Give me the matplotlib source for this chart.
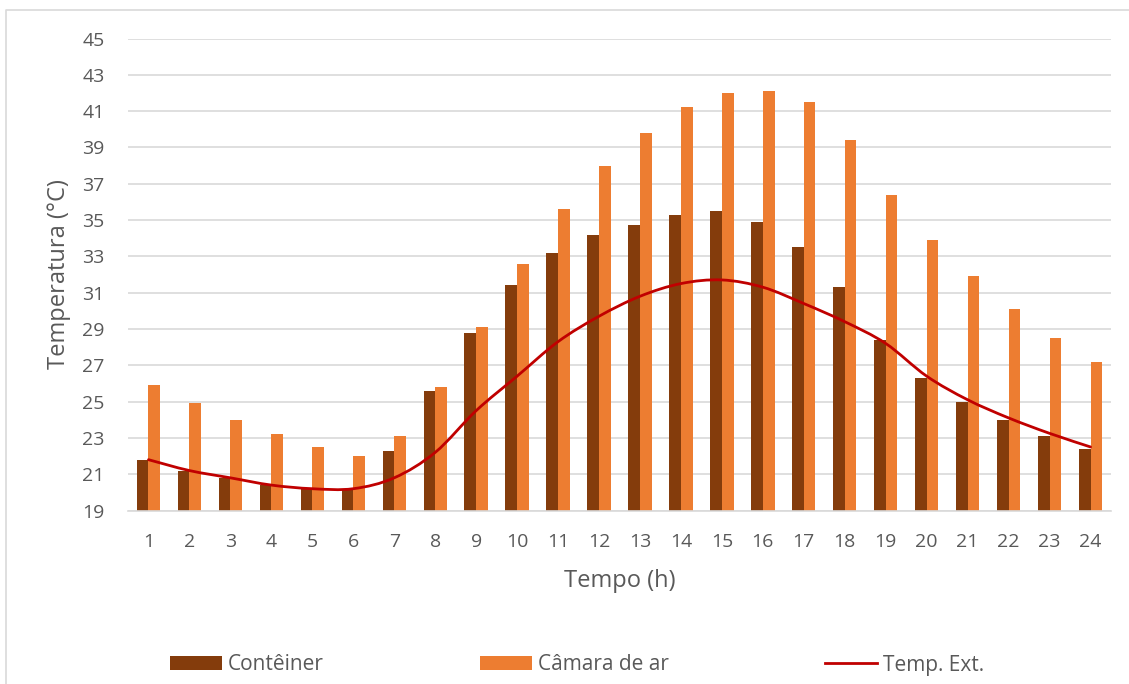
import matplotlib
matplotlib.use("Agg")
import matplotlib.pyplot as plt
from matplotlib.path import Path
from matplotlib.patches import PathPatch, Patch
from matplotlib.lines import Line2D
import numpy as np

# Hourly temperatures (°C)
hours = list(range(1, 25))
conteiner = [21.8, 21.2, 20.8, 20.4, 20.2, 20.2, 22.3, 25.6, 28.8, 31.4, 33.2, 34.2,
             34.7, 35.3, 35.5, 34.9, 33.5, 31.3, 28.4, 26.3, 25.0, 24.0, 23.1, 22.4]
camara_ar = [25.9, 24.9, 24.0, 23.2, 22.5, 22.0, 23.1, 25.8, 29.1, 32.6, 35.6, 38.0,
             39.8, 41.2, 42.0, 42.1, 41.5, 39.4, 36.4, 33.9, 31.9, 30.1, 28.5, 27.2]
temp_ext = [21.8, 21.2, 20.8, 20.4, 20.2, 20.2, 20.8, 22.2, 24.5, 26.4, 28.3, 29.7,
            30.8, 31.5, 31.7, 31.3, 30.4, 29.4, 28.2, 26.4, 25.1, 24.1, 23.25, 22.5]
y_ticks = list(range(19, 46, 2))

labels = ["Contêiner", "Câmara de ar", "Temp. Ext."]
c_cont = "#843C0C"
c_cam = "#ED7D31"
c_ext = "#C00000"
txt = "#595959"
grid = "#D9D9D9"

plt.rcParams["font.family"] = ["Open Sans", "DejaVu Sans"]

W, H = 1129, 684
fig = plt.figure(figsize=(W / 100, H / 100), dpi=100)
ax = fig.add_axes([128 / W, 1 - 510.5 / H, (1111 - 128) / W, (510.5 - 38.5) / H])

x = np.array(hours, dtype=float)
bw = 0.285
ax.bar(x - bw / 2, conteiner, width=bw, color=c_cont, zorder=2)
ax.bar(x + bw / 2, camara_ar, width=bw, color=c_cam, zorder=2)


def smooth_path(xs, ys):
    """Bezier path through the points with smoothed joints."""
    pts = np.column_stack([xs, ys])
    n = len(pts)
    verts = [pts[0]]
    codes = [Path.MOVETO]
    for i in range(n - 1):
        p0 = pts[max(i - 1, 0)]
        p1 = pts[i]
        p2 = pts[i + 1]
        p3 = pts[min(i + 2, n - 1)]
        c1 = p1 + (p2 - p0) / 6.0
        c2 = p2 - (p3 - p1) / 6.0
        verts += [c1, c2, p2]
        codes += [Path.CURVE4] * 3
    return Path(verts, codes)


ax.add_patch(PathPatch(smooth_path(x, temp_ext), fill=False, edgecolor=c_ext,
                       linewidth=2.0, zorder=3, capstyle="round", joinstyle="round"))

ax.set_xlim(0.5, 24.5)
ax.set_ylim(19, 45)
ax.set_yticks(y_ticks)
ax.set_xticks(hours)
ax.yaxis.grid(True, color=grid, linewidth=1.2, zorder=0)
ax.set_axisbelow(True)
for s in ["top", "right", "left"]:
    ax.spines[s].set_visible(False)
ax.spines["bottom"].set_color(grid)
ax.spines["bottom"].set_linewidth(1.2)
ax.tick_params(axis="both", length=0, labelsize=14, labelcolor=txt)
ax.tick_params(axis="y", pad=17)
ax.tick_params(axis="x", pad=16)

ax.set_xlabel("Tempo (h)", fontsize=17, color=txt, labelpad=13)
ax.set_ylabel("Temperatura (°C)", fontsize=17, color=txt, labelpad=8)

handles = [Patch(facecolor=c_cont), Patch(facecolor=c_cam),
           Line2D([], [], color=c_ext, linewidth=2.0)]
fig.legend(handles, labels, loc="center", bbox_to_anchor=(577 / W, 1 - 665 / H),
           ncol=3, frameon=False, fontsize=15, labelcolor=txt,
           handlelength=2.5, handleheight=0.67, handletextpad=0.29,
           columnspacing=7.5)

# chart area border (top and left edges)
bx = 5.5 / W
by = 1 - 9.5 / H
fig.add_artist(Line2D([bx, bx, 1.0], [0.0, by, by], transform=fig.transFigure,
                      color=grid, linewidth=1.2))

fig.savefig("out.png", dpi=100)
